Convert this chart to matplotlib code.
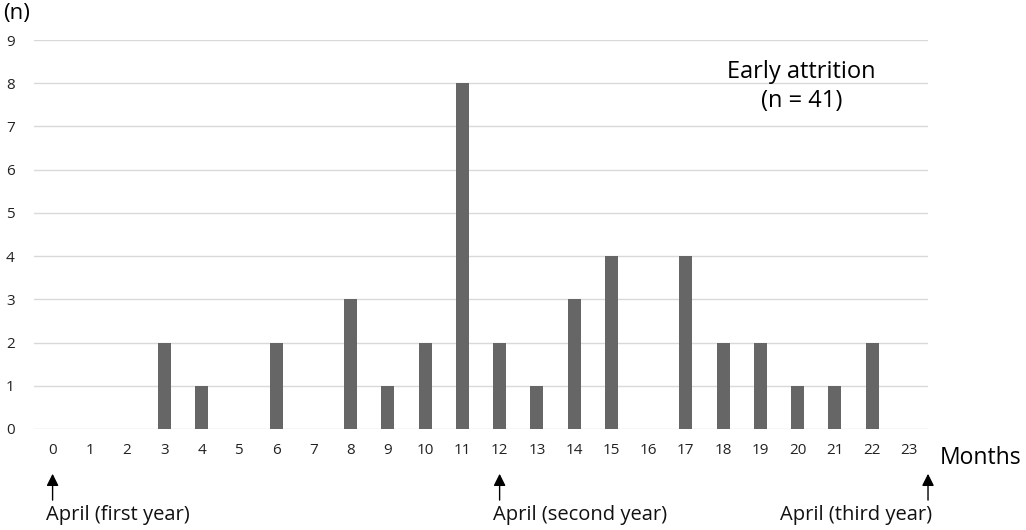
import matplotlib.pyplot as plt

plt.rcParams['font.family'] = ['Open Sans', 'DejaVu Sans']

# attrition counts per month after entry
months = list(range(24))
counts = [0, 0, 0, 2, 1, 0, 2, 0, 3, 1, 2, 8, 2, 1, 3, 4, 0, 4, 2, 2, 1, 1, 2, 0]
april_pos = [0, 12, 23.5]
april_labels = ['April (first year)', 'April (second year)', 'April (third year)']

fig = plt.figure(figsize=(10.26, 5.30), dpi=100)
ax = fig.add_axes([0.0331, 0.1906, 0.8714, 0.7339])

ax.bar(months, counts, width=0.35, color='#666666', zorder=3)
ax.set_xlim(-0.5, 23.5)
ax.set_ylim(0, 9)
ax.set_yticks(range(10))
ax.set_xticks(months)
ax.grid(axis='y', color='#d9d9d9', linewidth=1, zorder=0)
for s in ax.spines.values():
    s.set_visible(False)
ax.tick_params(length=0, labelsize=11, colors='#222222')
ax.tick_params(axis='x', pad=10)
ax.tick_params(axis='y', pad=14)

trans = ax.get_xaxis_transform()
for i, (x, lab) in enumerate(zip(april_pos, april_labels)):
    ax.annotate('', xy=(x, -0.108), xytext=(x, -0.19), xycoords=trans,
                arrowprops=dict(arrowstyle='-|>', color='black', lw=1.0,
                                mutation_scale=18), annotation_clip=False)
    ha = 'right' if i == 2 else 'left'
    dx = 0.1 if i == 2 else -0.18
    ax.text(x + dx, -0.222, lab, transform=trans, ha=ha, va='center',
            fontsize=14.5, color='#111111')

fig.text(0.003, 0.975, '(n)', fontsize=16, va='center', ha='left')
fig.text(0.916, 0.135, 'Months', fontsize=16.5, va='center', ha='left')
ax.text(20.1, 7.93, 'Early attrition\n(n = 41)', ha='center', va='center',
        fontsize=17, linespacing=1.25)

fig.savefig('out.png', dpi=100)
